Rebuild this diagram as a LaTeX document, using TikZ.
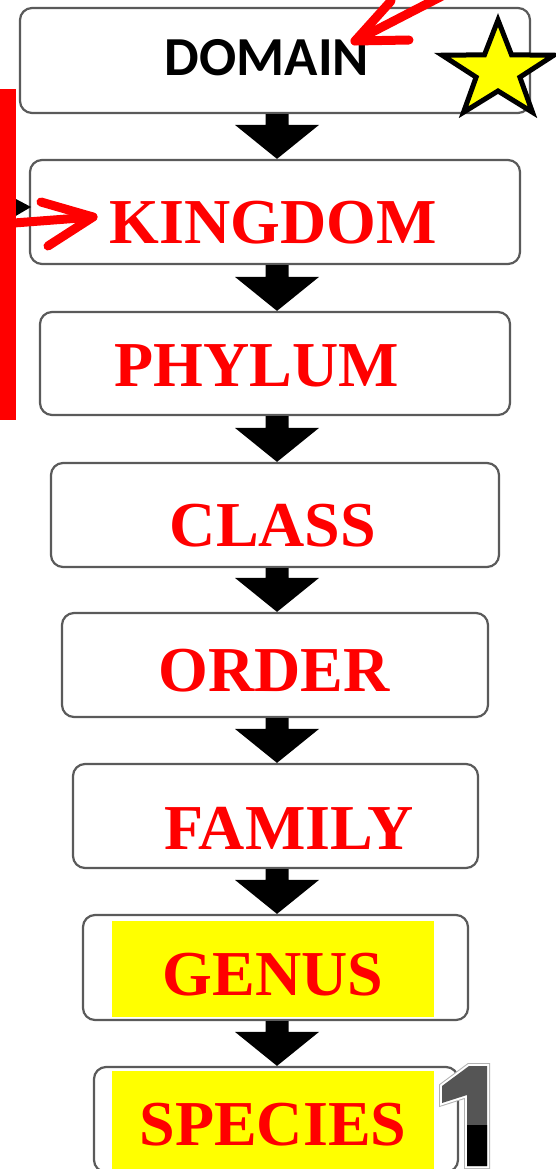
\documentclass[tikz,border=0pt]{standalone}
\usepackage{fontspec}
\setmainfont{Liberation Serif}
\newfontfamily\calib{Carlito}
\usetikzlibrary{calc}
\definecolor{boxline}{HTML}{5A5A5A}
\definecolor{digitgray}{HTML}{555555}
\definecolor{hiyel}{RGB}{255,255,0}
\definecolor{pured}{RGB}{255,0,0}
\newcommand\blockarr[2]{%
  \fill let \p1=(#1.south), \p2=(#2.north) in
    (265.5pt,\y1) -- (288.5pt,\y1) -- (288.5pt,\y2+34pt) -- (319pt,\y2+34pt)
    -- (277pt,\y2) -- (235pt,\y2+34pt) -- (265.5pt,\y2+34pt) -- cycle;}
\begin{document}
\begin{tikzpicture}[x=1pt,y=-1pt,
  box/.style={draw=boxline, line width=2.2pt, rounded corners=12pt, fill=white,
              rectangle, inner sep=0pt},
  lbl/.style={font=\fontsize{64}{64}\selectfont\bfseries, text=pured, anchor=base, inner sep=0pt},
  dom/.style={font=\calib\fontsize{55}{55}\selectfont\bfseries, text=black, anchor=base, inner sep=0pt},
  redarrow/.style={draw=pured, line width=9pt, line cap=round, line join=round}]
\useasboundingbox (0,0) rectangle (556,1169);
\clip (0,0) rectangle (556,1169);
\fill[white] (0,0) rectangle (556,1169);

% boxes
\node[box, minimum width=510pt, minimum height=105pt] (b1) at (275,60.5) {};
\node[box, minimum width=490pt, minimum height=104pt] (b2) at (275,212) {};
\node[box, minimum width=470pt, minimum height=103pt] (b3) at (275,363.5) {};
\node[box, minimum width=448pt, minimum height=104pt] (b4) at (275,515) {};
\node[box, minimum width=426pt, minimum height=104pt] (b5) at (275,665) {};
\node[box, minimum width=405pt, minimum height=104pt] (b6) at (275.5,816) {};
\node[box, minimum width=385pt, minimum height=105pt] (b7) at (275.5,967.5) {};
\node[box, minimum width=364pt, minimum height=105pt] (b8) at (276,1119.5) {};

% block arrows
\blockarr{b1}{b2}
\blockarr{b2}{b3}
\blockarr{b3}{b4}
\blockarr{b4}{b5}
\blockarr{b5}{b6}
\blockarr{b6}{b7}
\blockarr{b7}{b8}

% yellow highlights
\fill[hiyel] (112,921) rectangle (434,1017);
\fill[hiyel] (112,1071) rectangle (434,1175);

% labels
\node[dom] (t1) at (267,76) {DOMAIN};
\node[lbl] (t2) at (273.5,243) {KINGDOM};
\node[lbl] (t3) at (257,386) {PHYLUM};
\node[lbl] (t4) at (273,546) {CLASS};
\node[lbl] (t5) at (274,691) {ORDER};
\node[lbl] (t6) at (289,849) {FAMILY};
\node[lbl] (t7) at (273,995) {GENUS};
\node[lbl] (t8) at (273,1145) {SPECIES};

% star
\begin{scope}[shift={(498,71)}, xscale=1.15, yscale=-1]
  \draw[fill=hiyel, draw=black, line width=5pt, line join=miter]
    (90:51) -- (54:20) -- (18:51) -- (342:20) -- (306:51) -- (270:20)
    -- (234:51) -- (198:20) -- (162:51) -- (126:20) -- cycle;
\end{scope}

% red arrow at the top
\coordinate (ta) at (446,-6);
\coordinate (tt) at (355,41);
\draw[redarrow] (ta) -- (tt);
\draw[redarrow] (409,40) -- (tt) -- (391,1);

% left side: black tip, red bar, red arrow
\fill[black] (14,198) -- (31,207) -- (14,217) -- cycle;
\fill[pured] (0,89) rectangle (16,420);
\coordinate (la) at (14,223);
\coordinate (lt) at (93,217);
\draw[redarrow] (la) -- (lt);
\draw[redarrow] (41,202) -- (lt) -- (48,246);

% digit one
\def\onepath{(469,1066) -- (487,1066) -- (487,1166) -- (467,1166) -- (467,1095) -- (442,1103) -- (442,1086) -- cycle}
\draw[gray!60, line width=6pt, line join=miter] \onepath;
\draw[white, line width=4pt, line join=miter] \onepath;
\fill[digitgray] \onepath;
\begin{scope}
  \clip \onepath;
  \fill[black] (430,1125) rectangle (500,1175);
\end{scope}
\end{tikzpicture}
\end{document}
